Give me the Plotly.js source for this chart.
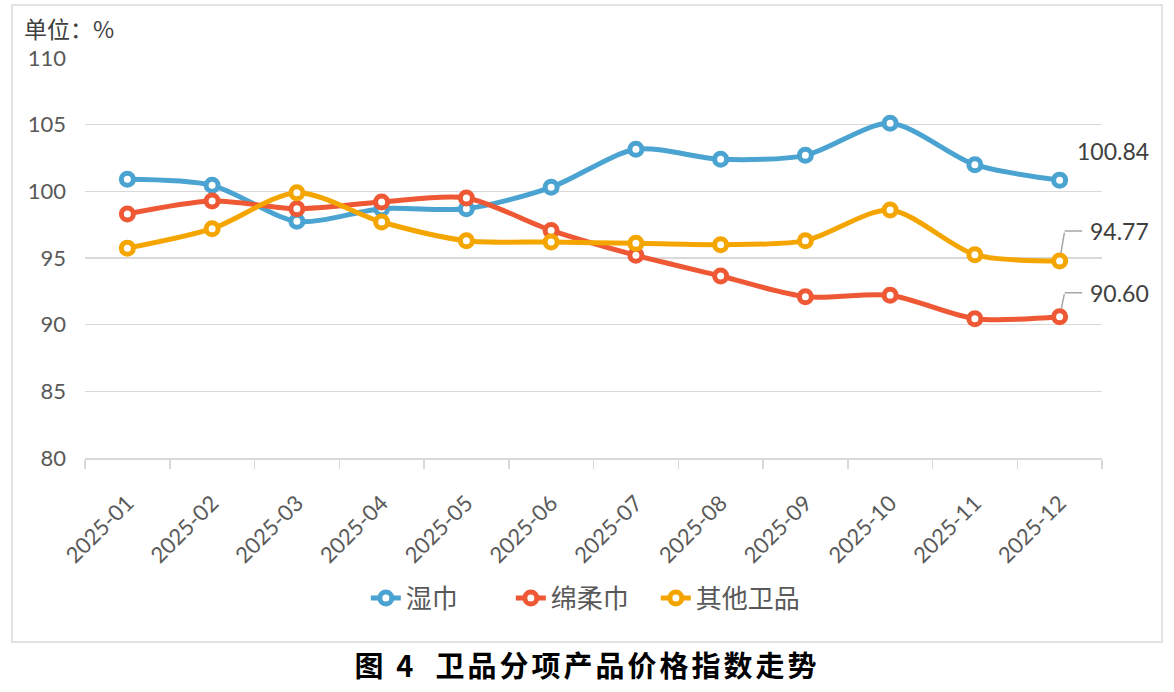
<!DOCTYPE html>
<html>
<head>
<meta charset="utf-8">
<script src="https://cdn.plot.ly/plotly-3.0.1.min.js"></script>
<style>html,body{margin:0;padding:0;background:#fff;}#chart{width:1174px;height:692px;}
.gtitle{letter-spacing:3px;}</style>
</head>
<body>
<div id="chart"></div>
<script>
const categories = ["2025-01","2025-02","2025-03","2025-04","2025-05","2025-06","2025-07","2025-08","2025-09","2025-10","2025-11","2025-12"];
const wetWipes = [100.9, 100.45, 97.75, 98.7, 98.7, 100.3, 103.15, 102.4, 102.7, 105.1, 102.0, 100.84];
const softTowels = [98.3, 99.27, 98.7, 99.2, 99.5, 97.07, 95.2, 93.65, 92.1, 92.2, 90.45, 90.60];
const otherHygiene = [95.74, 97.2, 99.9, 97.7, 96.3, 96.2, 96.1, 96.0, 96.3, 98.6, 95.25, 94.77];
const seriesNames = ["湿巾", "绵柔巾", "其他卫品"];
const yTicks = [80, 85, 90, 95, 100, 105, 110];

const colors = ["#4aa3d0", "#ee5834", "#f5a500"];
const cjk = '"Noto Sans CJK SC", sans-serif';
const latin = 'Lato, "Noto Sans CJK SC", sans-serif';

function mk(name, ys, color) {
  return {
    type: 'scatter', mode: 'lines+markers', name: name,
    x: categories, y: ys,
    line: {color: color, width: 5, shape: 'spline', smoothing: 0.8},
    marker: {symbol: 'circle', size: 12, color: '#ffffff', line: {color: color, width: 5}},
    hoverinfo: 'x+y'
  };
}

const data = [
  mk(seriesNames[0], wetWipes, colors[0]),
  mk(seriesNames[1], softTowels, colors[1]),
  mk(seriesNames[2], otherHygiene, colors[2])
];

const last = categories.length - 1;
const labelFont = {family: latin, size: 23, color: '#404040'};
const leader = {color: '#a6a6a6', width: 1.5};

function leaderAnnots(yv, dy) {
  return [
    {x: categories[last], y: yv, text: '', showarrow: true, arrowhead: 0,
     arrowwidth: leader.width, arrowcolor: leader.color, ax: 5, ay: -dy, standoff: 8},
    {x: categories[last], y: yv, text: '', showarrow: true, arrowhead: 0,
     arrowwidth: leader.width, arrowcolor: leader.color, ax: 19, ay: 0, standoff: 0,
     xshift: 5, yshift: dy},
    {x: categories[last], y: yv, text: yv.toFixed(2), showarrow: false,
     xanchor: 'left', yanchor: 'middle', xshift: 28, yshift: dy, font: labelFont}
  ];
}

const layout = {
  width: 1174, height: 692,
  margin: {l: 85, r: 72, t: 58, b: 234},
  paper_bgcolor: '#ffffff', plot_bgcolor: '#ffffff',
  showlegend: true,
  legend: {orientation: 'h', x: 0.49, xanchor: 'center', y: -0.35, yanchor: 'middle',
           entrywidth: 100, entrywidthmode: 'pixels',
           font: {family: cjk, size: 26, color: '#595959'}},
  title: {text: '<b>图 4  卫品分项产品价格指数走势</b>', x: 0.5, xanchor: 'center',
          y: 0.036, yref: 'container', yanchor: 'middle',
          font: {family: cjk, size: 29, color: '#000000'}},
  xaxis: {
    type: 'category', range: [-0.5, 11.5],
    tickangle: -45, tickson: 'boundaries', ticks: 'outside', ticklen: 9, tickcolor: '#d9d9d9', tickwidth: 1.5,
    showline: true, linecolor: '#d9d9d9', linewidth: 1.5, showgrid: false,
    ticklabelstandoff: 22,
    tickfont: {family: latin, size: 22, color: '#595959'}, fixedrange: true
  },
  yaxis: {
    range: [80, 110], tickvals: yTicks, ticktext: yTicks.map(String),
    showgrid: true, gridcolor: '#d9d9d9', gridwidth: 1.5, zeroline: false, showline: false,
    tickfont: {family: latin, size: 22, color: '#595959'}, ticklabelstandoff: 18, fixedrange: true
  },
  shapes: [
    {type: 'rect', xref: 'paper', yref: 'paper', x0: -0.0718, x1: 1.059, y0: -0.46, y1: 1.1325,
     line: {color: '#d9d9d9', width: 1.5}, fillcolor: 'rgba(0,0,0,0)', layer: 'below'}
  ],
  annotations: [
    {xref: 'paper', yref: 'paper', x: -0.062, y: 1.075, xanchor: 'left', yanchor: 'middle',
     text: '单位：%', showarrow: false, font: {family: cjk, size: 23, color: '#404040'}},
    {x: categories[last], y: wetWipes[last], text: wetWipes[last].toFixed(2), showarrow: false,
     xanchor: 'center', yanchor: 'middle', xshift: 53, yshift: 29, font: labelFont}
  ].concat(leaderAnnots(otherHygiene[last], 30), leaderAnnots(softTowels[last], 24))
};

Plotly.newPlot('chart', data, layout, {displayModeBar: false, staticPlot: true});
</script>
</body>
</html>
